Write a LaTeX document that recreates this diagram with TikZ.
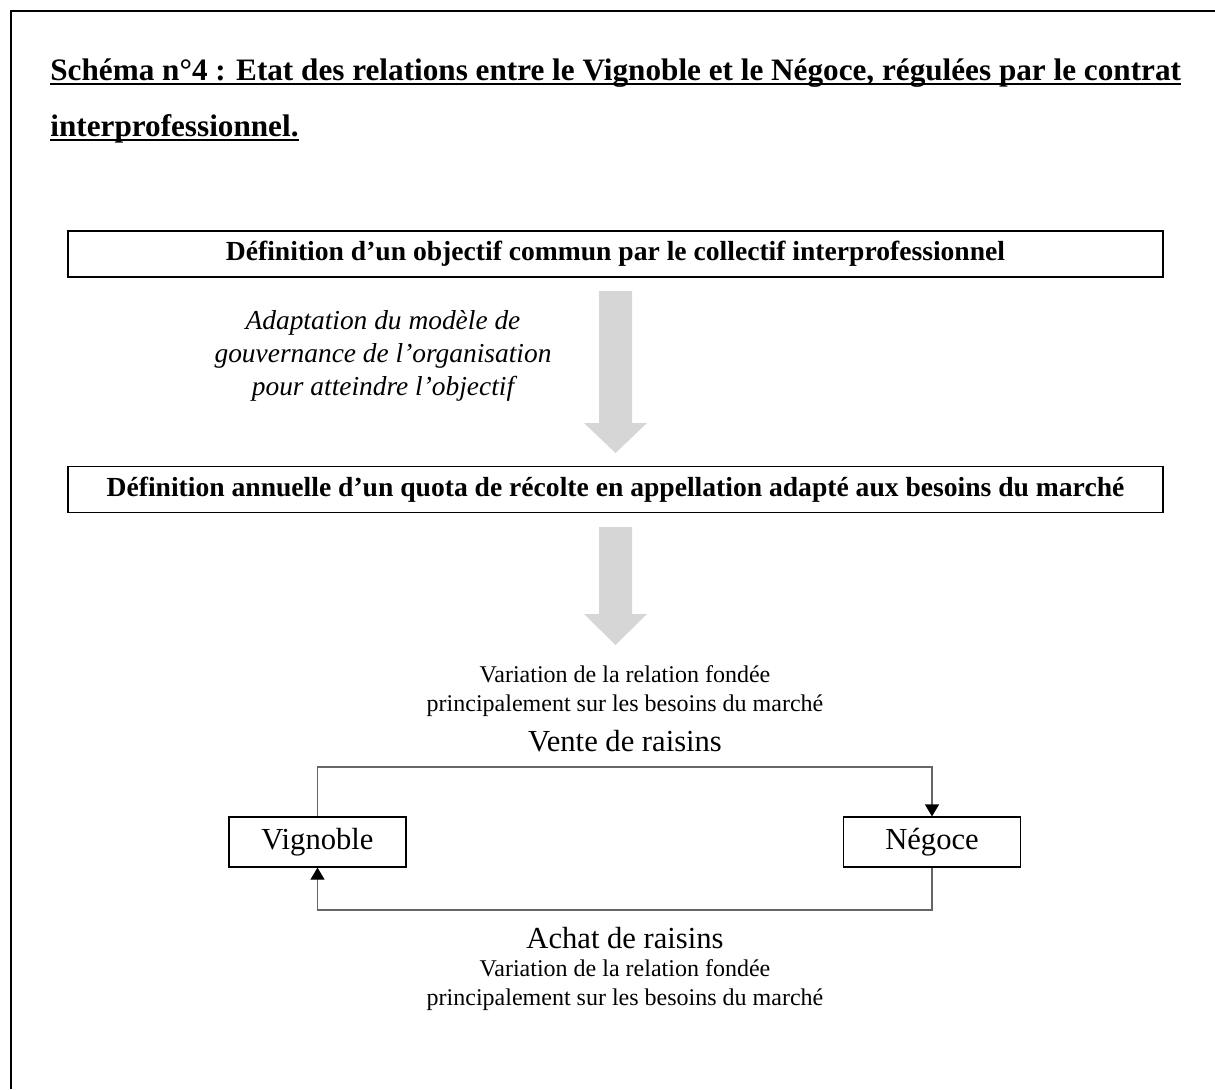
\documentclass[tikz,border=0pt]{standalone}
\usepackage{fontspec}
\setmainfont{Liberation Serif}
\usetikzlibrary{positioning,arrows.meta}

\begin{document}
\begin{tikzpicture}[x=0.5pt, y=-0.5pt, line join=miter, >={Triangle[width=7pt,length=6pt,color=black]},
	etape/.style={draw, line width=0.9pt, minimum width=547.5pt, minimum height=23pt, inner sep=0pt, font=\bfseries\fontsize{13.8}{16}\selectfont},
	acteur/.style={draw, line width=0.6pt, minimum width=88.5pt, minimum height=25pt, inner sep=0pt, font=\fontsize{15.3}{17}\selectfont},
	liaison/.style={draw=black!60, line width=0.6pt},
	grosse/.style={fill=black!16, draw=none},
	titre/.style={anchor=base west, inner sep=0pt, font=\bfseries\fontsize{15.6}{28}\selectfont},
	note/.style={align=center, font=\fontsize{12}{14.5}\selectfont}]
	\useasboundingbox (0,0) rectangle (1215,1089);
	% cadre (coupé à droite et en bas)
	\draw[line width=1.1pt] (1215,11) -- (11,11) -- (11,1089);
	% titre souligné
	\node[titre] (titre1) at (50,80) {Schéma n°4 : Etat des relations entre le Vignoble et le Négoce, régulées par le contrat};
	\node[titre] (titre2) at (50,136) {interprofessionnel.};
	\foreach \t in {titre1,titre2}
		\draw[line width=1.1pt] ([yshift=-2pt]\t.base west) -- ([yshift=-2pt]\t.base east);
	% les deux étapes
	\node[etape] (objectif) at (615.5,254) {Définition d’un objectif commun par le collectif interprofessionnel};
	\node[etape] (quota) at (615.5,489.5) {Définition annuelle d’un quota de récolte en appellation adapté aux besoins du marché};
	% grosses flèches grises
	\def\xm{615.5} \def\ls{16.5} \def\lt{31.5} % milieu, demi-largeur tige, demi-largeur tête
	\fill[grosse] (\xm-\ls,291) -- (\xm+\ls,291) -- (\xm+\ls,423) -- (\xm+\lt,423) -- (\xm,453) -- (\xm-\lt,423) -- (\xm-\ls,423) -- cycle;
	\fill[grosse] (\xm-\ls,527) -- (\xm+\ls,527) -- (\xm+\ls,614) -- (\xm+\lt,614) -- (\xm,645) -- (\xm-\lt,614) -- (\xm-\ls,614) -- cycle;
	\node[align=center, font=\itshape\fontsize{13.7}{16.5}\selectfont] (adaptation) at (383,356) {Adaptation du modèle de\\gouvernance de l’organisation\\pour atteindre l’objectif};
	% relation Vignoble / Négoce
	\node[note] (varhaut) at (625,691) {Variation de la relation fondée\\principalement sur les besoins du marché};
	\node[font=\fontsize{15.3}{17}\selectfont] (vente) at (625,741) {Vente de raisins};
	\node[acteur] (vigne) at (317.5,842) {Vignoble};
	\node[acteur] (negoce) at (932,842) {Négoce};
	\coordinate (haut) at (625,767);
	\coordinate (bas) at (625,910);
	\draw[liaison,->] (vigne.north) |- (haut) -| (negoce.north);
	\draw[liaison,->] (negoce.south) |- (bas) -| (vigne.south);
	\node[font=\fontsize{15.3}{17}\selectfont] (achat) at (625,938) {Achat de raisins};
	\node[note] (varbas) at (625,985) {Variation de la relation fondée\\principalement sur les besoins du marché};
\end{tikzpicture}
\end{document}
